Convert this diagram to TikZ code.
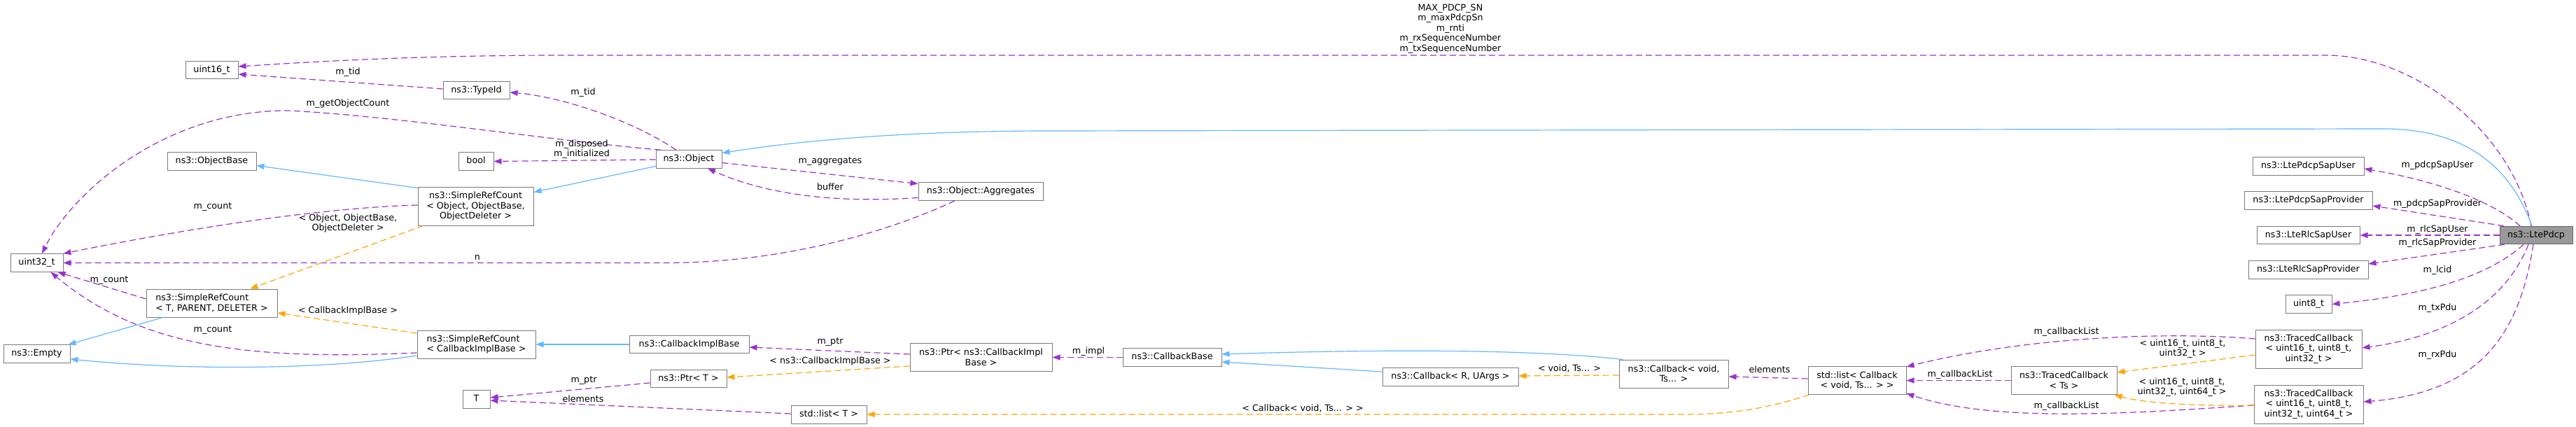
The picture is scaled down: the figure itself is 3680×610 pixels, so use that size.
\documentclass[tikz,border=0pt]{standalone}
\usepackage{fontspec}
\setmainfont{DejaVu Sans}
\usetikzlibrary{arrows.meta,positioning}

\definecolor{usecol}{HTML}{9A32CD}
\definecolor{inhcol}{HTML}{63B8FF}
\definecolor{tplcol}{HTML}{FFA500}
\definecolor{boxcol}{HTML}{7A7A7A}
\definecolor{rootcol}{HTML}{999999}

\tikzset{
  cls/.style={draw=boxcol, line width=1pt, fill=white, inner sep=0pt, minimum height=25.5pt, text height=9.3pt, text depth=3pt},
  clsm/.style={draw=boxcol, line width=1pt, fill=white, inner sep=0pt, align=center},
  lbl/.style={inner sep=0pt, align=center},
  usage/.style={draw=usecol, line width=1.2pt, dash pattern=on 9pt off 5pt, -{Triangle[length=11pt,width=8pt]}},
  inherit/.style={draw=inhcol, line width=1.2pt, -{Triangle[length=11pt,width=8pt]}},
  templ/.style={draw=tplcol, line width=1.2pt, dash pattern=on 9pt off 5pt, -{Triangle[length=11pt,width=8pt]}},
}

\begin{document}
\begin{tikzpicture}[x=1pt, y=-1pt, font=\fontsize{12.7}{14.5}\selectfont]
\path[fill=white, use as bounding box] (0,0) rectangle (3680,610);

% 左侧基础类
\node[cls, minimum width=75pt] (uint16) at (302.5,100) {uint16\_t};
\node[cls, minimum width=95pt] (typeid) at (680.5,129) {ns3::TypeId};
\node[cls, minimum width=50pt] (bool) at (680,230.5) {bool};
\node[cls, minimum width=127pt] (objbase) at (302.5,230.5) {ns3::ObjectBase};
\node[clsm, minimum width=165pt, minimum height=55pt] (srcobj) at (679.5,294.5) {ns3::SimpleRefCount\\< Object, ObjectBase,\\ObjectDeleter >};
\node[cls, minimum width=75pt] (uint32) at (52.5,375.5) {uint32\_t};
\node[clsm, align=left, minimum width=187pt, minimum height=40pt] (srct) at (302.5,433) {ns3::SimpleRefCount\\< T, PARENT, DELETER >};
\node[cls, minimum width=95pt] (empty) at (52.5,505.5) {ns3::Empty};
\node[clsm, align=left, minimum width=169pt, minimum height=40pt] (srccib) at (680.5,492) {ns3::SimpleRefCount\\< CallbackImplBase >};
\node[cls, minimum width=39pt] (tt) at (680.5,570.5) {T};

% Object与Callback类
\node[cls, minimum width=94pt] (object) at (984,227.5) {ns3::Object};
\node[cls, minimum width=178pt] (aggr) at (1401,273.5) {ns3::Object::Aggregates};
\node[cls, minimum width=171pt] (cib) at (984.5,492) {ns3::CallbackImplBase};
\node[clsm, minimum width=203pt, minimum height=40pt] (ptrcib) at (1401.5,510.5) {ns3::Ptr< ns3::CallbackImpl\\Base >};
\node[cls, minimum width=109pt] (ptrt) at (983.5,541) {ns3::Ptr< T >};
\node[cls, minimum width=108pt] (listt) at (1184,592.5) {std::list< T >};
\node[cls, minimum width=141pt] (cbbase) at (1674.5,510.5) {ns3::CallbackBase};
\node[cls, minimum width=194pt] (cbr) at (2072,538.5) {ns3::Callback< R, UArgs >};
\node[clsm, minimum width=156pt, minimum height=40pt] (cbvoid) at (2391,534) {ns3::Callback< void,\\Ts... >};
\node[clsm, minimum width=140pt, minimum height=40pt] (listcb) at (2653,543.5) {std::list< Callback\\< void, Ts... > >};
\node[clsm, minimum width=151pt, minimum height=40pt] (tcts) at (2948.5,543.5) {ns3::TracedCallback\\< Ts >};

% 右侧成员类
\node[clsm, minimum width=152pt, minimum height=55pt] (tcthree) at (3298,498.5) {ns3::TracedCallback\\< uint16\_t, uint8\_t,\\uint32\_t >};
\node[clsm, minimum width=156pt, minimum height=55pt] (tcfour) at (3298,577.5) {ns3::TracedCallback\\< uint16\_t, uint8\_t,\\uint32\_t, uint64\_t >};
\node[cls, minimum width=159pt] (pdcpuser) at (3297.5,237.5) {ns3::LtePdcpSapUser};
\node[cls, minimum width=183pt] (pdcpprov) at (3297.5,286.5) {ns3::LtePdcpSapProvider};
\node[cls, minimum width=147pt] (rlcuser) at (3297.5,336) {ns3::LteRlcSapUser};
\node[cls, minimum width=171pt] (rlcprov) at (3297.5,385.5) {ns3::LteRlcSapProvider};
\node[cls, minimum width=66pt] (uint8) at (3298,434.5) {uint8\_t};

% LtePdcp类
\node[cls, fill=rootcol, draw=black!60, minimum width=104pt] (pdcp) at (3623,336) {ns3::LtePdcp};

% LtePdcp的成员
\draw[usage] ([xshift=-7pt]pdcp.north) .. controls (3590,190) and (3450,79) .. (3323,79) -- (800,79) .. controls (600,79) and (450,88) .. ([yshift=5pt]uint16.east);
\draw[inherit] ([xshift=-6pt]pdcp.north) .. controls (3580,220) and (3500,183) .. (3400,184) -- (1500,187) .. controls (1300,187) and (1150,200) .. ([yshift=9pt]object.east);
\draw[usage] ([xshift=-23pt]pdcp.north) .. controls (3570,295) and (3500,262) .. ([yshift=-3.5pt]pdcpuser.east);
\draw[usage] ([xshift=-46pt]pdcp.north) -- ([yshift=-7.5pt]pdcpprov.east);
\draw[usage] (pdcp.west) -- (rlcuser.east);
\draw[usage] ([xshift=-45pt]pdcp.south) -- ([yshift=8.5pt]rlcprov.east);
\draw[usage] ([xshift=-18pt]pdcp.south) .. controls (3560,390) and (3480,420) .. (uint8.east);
\draw[usage] ([xshift=-11pt]pdcp.south) .. controls (3580,430) and (3500,480) .. ([yshift=1.5pt]tcthree.east);
\draw[usage] ([xshift=-4pt]pdcp.south) .. controls (3600,470) and (3550,560) .. ([yshift=3.5pt]tcfour.east);

\node[lbl] (lseq) at (2072,41) {MAX\_PDCP\_SN\\m\_maxPdcpSn\\m\_rnti\\m\_rxSequenceNumber\\m\_txSequenceNumber};
\node[lbl] (lpuser) at (3482,236) {m\_pdcpSapUser};
\node[lbl] (lpprov) at (3482,291) {m\_pdcpSapProvider};
\node[lbl] (lruser) at (3482,328) {m\_rlcSapUser};
\node[lbl] (lrprov) at (3482,347) {m\_rlcSapProvider};
\node[lbl] (llcid) at (3482,386) {m\_lcid};
\node[lbl] (ltx) at (3482,440) {m\_txPdu};
\node[lbl] (lrx) at (3482,507) {m\_rxPdu};

% TracedCallback
\draw[usage] ([yshift=14.5pt]tcthree.west) .. controls (3100,474) and (2900,480) .. ([yshift=-1pt]listcb.north east);
\draw[templ] ([yshift=-8.5pt]tcthree.west) -- ([yshift=11.5pt]tcts.east);
\draw[usage] ([yshift=-1.5pt]tcfour.west) .. controls (3050,590) and (2850,605) .. ([yshift=2pt]listcb.south east);
\draw[templ] ([yshift=-1.5pt]tcfour.west) .. controls (3120,580) and (3060,575) .. ([xshift=-4pt]tcts.south east);
\draw[usage] (tcts.west) -- (listcb.east);
\node[lbl] (lcbl1) at (2952,474) {m\_callbackList};
\node[lbl] (lcbl2) at (2800,535) {m\_callbackList};
\node[lbl] (lcbl3) at (2952,580) {m\_callbackList};
\node[lbl] (ltc3) at (3118,498) {< uint16\_t, uint8\_t,\\uint32\_t >};
\node[lbl] (ltc4) at (3117,553) {< uint16\_t, uint8\_t,\\uint32\_t, uint64\_t >};

% Callback
\draw[usage] ([yshift=2.5pt]listcb.west) -- ([yshift=-4pt]cbvoid.east);
\draw[templ] ([xshift=2pt]listcb.south west) .. controls (2520,585) and (2470,592) .. (2400,592) -- ([yshift=0.5pt]listt.east);
\draw[templ] ([yshift=-2pt]cbvoid.west) -- ([yshift=1.5pt]cbr.east);
\draw[inherit] ([xshift=-73pt]cbvoid.north) .. controls (2200,500) and (2000,498) .. ([yshift=4.5pt]cbbase.east);
\draw[inherit] ([yshift=7.5pt]cbr.west) -- ([yshift=-6.5pt]cbbase.east);
\draw[usage] (cbbase.west) -- (ptrcib.east);
\draw[usage] ([yshift=4.5pt]ptrcib.west) -- ([yshift=-4pt]cib.east);
\draw[templ] ([yshift=-12.5pt]ptrcib.west) -- ([yshift=2pt]ptrt.east);
\draw[usage] ([yshift=-6pt]ptrt.west) -- ([yshift=2.5pt]tt.east);
\draw[usage] ([yshift=1.5pt]listt.west) -- ([yshift=-1.5pt]tt.east);
\draw[inherit] (cib.west) -- (srccib.east);
\node[lbl] (lel1) at (2528,528) {elements};
\node[lbl] (lcbt) at (1861,583) {< Callback< void, Ts... > >};
\node[lbl] (lvts) at (2242,526) {< void, Ts... >};
\node[lbl] (limpl) at (1555,502) {m\_impl};
\node[lbl] (lptr1) at (1186,489) {m\_ptr};
\node[lbl] (lcibt) at (1186,516) {< ns3::CallbackImplBase >};
\node[lbl] (lptr2) at (834,544) {m\_ptr};
\node[lbl] (lel2) at (833,570) {elements};

% Object
\draw[usage] ([yshift=-5pt]object.east) -- ([yshift=11pt]aggr.west);
\draw[usage] ([yshift=-9pt]aggr.west) .. controls (1200,290) and (1100,280) .. ([xshift=27pt]object.south);
\draw[usage] ([xshift=-37pt]aggr.south) .. controls (1250,340) and (1100,375.5) .. (950,375.5) -- (uint32.east);
\draw[usage] ([xshift=-18pt]object.north) .. controls (900,170) and (800,138) .. ([yshift=-3pt]typeid.east);
\draw[usage] ([xshift=-40pt]object.north) .. controls (780,200) and (560,165) .. (411,158) .. controls (230,158) and (100,280) .. ([xshift=7.5pt]uint32.north);
\draw[usage] ([yshift=-0.5pt]object.west) -- (bool.east);
\draw[inherit] ([yshift=-10pt]object.west) -- ([yshift=20pt]srcobj.east);
\draw[usage] ([yshift=2pt]typeid.west) -- ([yshift=-6pt]uint16.east);
\node[lbl] (lagg) at (1186,231) {m\_aggregates};
\node[lbl] (lbuf) at (1186,267) {buffer};
\node[lbl] (ln) at (682,368) {n};
\node[lbl] (ltid1) at (833,132) {m\_tid};
\node[lbl] (lgoc) at (497,148) {m\_getObjectCount};
\node[lbl] (ldisp) at (831,213) {m\_disposed\\m\_initialized};
\node[lbl] (ltid2) at (497,103) {m\_tid};

% SimpleRefCount
\draw[inherit] ([yshift=26pt]srcobj.west) -- ([yshift=-6pt]objbase.east);
\draw[usage] ([yshift=1.5pt]srcobj.west) .. controls (450,297) and (250,330) .. (uint32.north east);
\draw[templ] ([xshift=-75pt]srcobj.south) -- ([xshift=55pt]srct.north);
\draw[usage] ([yshift=6pt]srct.west) -- ([xshift=30pt]uint32.south);
\draw[inherit] ([xshift=-70pt]srct.south) -- ([xshift=-3pt]empty.north east);
\draw[templ] ([yshift=16pt]srccib.west) -- ([yshift=-14pt]srct.east);
\draw[usage] ([yshift=-12pt]srccib.west) .. controls (350,515) and (200,495) .. ([xshift=20pt]uint32.south);
\draw[inherit] ([yshift=-16pt]srccib.west) .. controls (450,530) and (250,528) .. ([yshift=-7.5pt]empty.east);
\node[lbl] (lcnt1) at (304,296) {m\_count};
\node[lbl] (lobjt) at (497,319) {< Object, ObjectBase,\\ObjectDeleter >};
\node[lbl] (lcnt2) at (156,401) {m\_count};
\node[lbl] (lcibt2) at (497,444) {< CallbackImplBase >};
\node[lbl] (lcnt3) at (304,472) {m\_count};
\end{tikzpicture}
\end{document}
